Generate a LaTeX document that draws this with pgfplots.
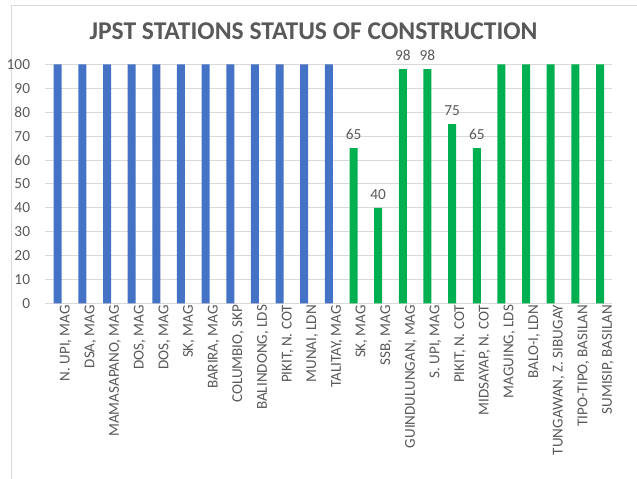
\documentclass[border=0pt]{standalone}
\usepackage{pgfplots}
\pgfplotsset{compat=1.18}
\usepackage{fontspec}
\setmainfont{Carlito}
\definecolor{txt}{HTML}{595959}
\definecolor{grd}{HTML}{D9D9D9}
\definecolor{bblue}{HTML}{4472C4}
\definecolor{bgreen}{HTML}{00B050}
\begin{document}
\begin{tikzpicture}
\useasboundingbox (-43.3pt,-131.6pt) rectangle (434.5pt,227.6pt);
\draw[grd, line width=0.75pt] (-35pt,-140pt) -- (-35pt,223.1pt) -- (440pt,223.1pt);
\node[font=\fontsize{19.2}{21}\selectfont\bfseries, text=txt] at (191.9pt,204.4pt) {JPST STATIONS STATUS OF CONSTRUCTION};
\begin{axis}[
  at={(0pt,0pt)}, anchor=origin,
  scale only axis, width=425.25pt, height=179.25pt,
  xmin=-0.5, xmax=22.5, ymin=0, ymax=100,
  ytick={0,10,...,100},
  xtick={0,...,22},
  xticklabels={{N. UPI, MAG},{DSA, MAG},{MAMASAPANO, MAG},{DOS, MAG},{DOS, MAG},{SK, MAG},{BARIRA, MAG},{COLUMBIO, SKP},{BALINDONG, LDS},{PIKIT, N. COT},{MUNAI, LDN},{TALITAY, MAG},{SK, MAG},{SSB, MAG},{GUINDULUNGAN, MAG},{S. UPI, MAG},{PIKIT, N. COT},{MIDSAYAP, N. COT},{MAGUING, LDS},{BALO-I, LDN},{TUNGAWAN, Z. SIBUGAY},{TIPO-TIPO, BASILAN},{SUMISIP, BASILAN}},
  xticklabel style={rotate=90, anchor=east, font=\fontsize{11.3}{12}\selectfont, text=txt, inner sep=1pt, yshift=-6pt},
  yticklabel style={font=\fontsize{11.5}{12}\selectfont, text=txt, xshift=-8pt},
  /pgf/number format/assume math mode=true,
  major tick length=0pt,
  ymajorgrids, grid style={grd, line width=0.75pt},
  axis line style={draw=none},
  ytick style={draw=none}, xtick style={draw=none},
  clip=false,
]
\addplot[ybar, bar width=6pt, bar shift=0pt, fill=bblue, draw=none] coordinates {
(0,100) (1,100) (2,100) (3,100) (4,100) (5,100) (6,100) (7,100) (8,100) (9,100) (10,100) (11,100)};
\addplot[ybar, bar width=6pt, bar shift=0pt, fill=bgreen, draw=none,
  nodes near coords, nodes near coords style={font=\fontsize{11.5}{12}\selectfont, text=txt, /pgf/number format/assume math mode=true, yshift=3pt}] coordinates {
(12,65) (13,40) (14,98) (15,98) (16,75) (17,65)};
\addplot[ybar, bar width=6pt, bar shift=0pt, fill=bgreen, draw=none] coordinates {
(18,100) (19,100) (20,100) (21,100) (22,100)};
\end{axis}
\end{tikzpicture}
\end{document}
